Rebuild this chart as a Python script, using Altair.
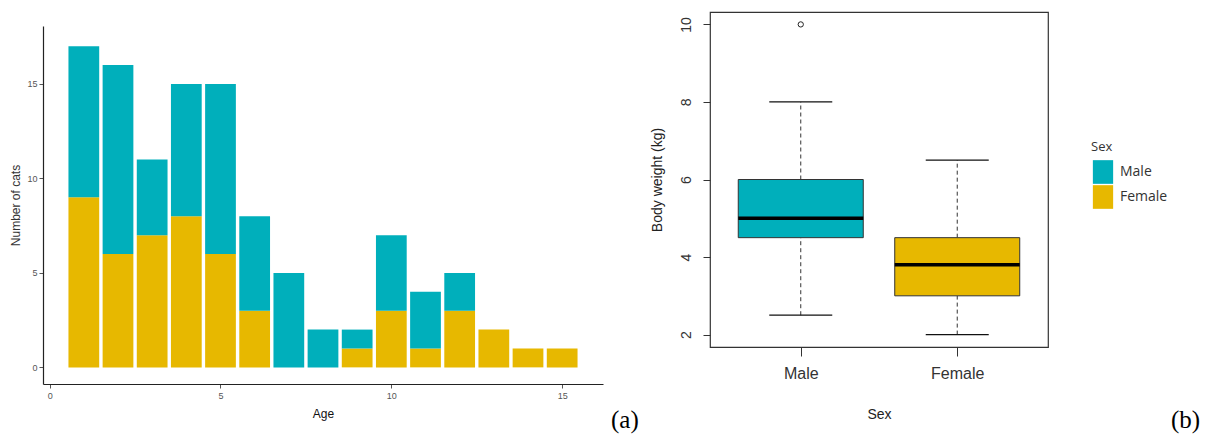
import altair as alt
import pandas as pd

# ---------------- data ----------------
ages = list(range(1, 16))
female_counts = [9, 6, 7, 8, 6, 3, 0, 0, 1, 3, 1, 3, 2, 1, 1]
male_counts = [8, 10, 4, 7, 9, 5, 5, 2, 1, 4, 3, 2, 0, 0, 0]

sexes = ["Male", "Female"]
sex_colors = ["#00AFBB", "#E7B800"]

box_lower = [2.5, 2.0]
box_q1 = [4.5, 3.0]
box_median = [5.0, 3.8]
box_q3 = [6.0, 4.5]
box_upper = [8.0, 6.5]

outlier_sex = ["Male"]
outlier_value = [10.0]

panel_labels = ["(a)", "(b)"]

# ---------------- tables ----------------
rows = []
for a, f, m in zip(ages, female_counts, male_counts):
    if f > 0:
        rows.append({"Age": a, "Count": f, "Sex": "Female", "ord": 0})
    if m > 0:
        rows.append({"Age": a, "Count": m, "Sex": "Male", "ord": 1})
bar_df = pd.DataFrame(rows)

box_df = pd.DataFrame({
    "Sex": sexes, "lower": box_lower, "q1": box_q1, "median": box_median,
    "q3": box_q3, "upper": box_upper,
})
out_df = pd.DataFrame({"Sex": outlier_sex, "value": outlier_value})

color_scale = alt.Scale(domain=sexes, range=sex_colors)
legend = alt.Legend(
    title="Sex", orient="none", legendX=1048, legendY=129,
    titleFont="Open Sans", titleFontSize=13, titleFontWeight="normal", titleColor="#333",
    labelFont="Open Sans", labelFontSize=14, labelColor="#333", labelOffset=5,
    symbolType="M-0.857,-1H0.857V1H-0.857Z", symbolSize=560, symbolStrokeWidth=0,
    symbolOpacity=1, rowPadding=1, titlePadding=6,
)

SANS = "Liberation Sans"

# ---------------- left: stacked bars ----------------
left = alt.Chart(bar_df).transform_stack(
    stack="Count", groupby=["Age"], as_=["y0", "y1"],
    sort=[alt.SortField("ord", order="ascending")],
).transform_calculate(
    x0="datum.Age - 0.45", x1="datum.Age + 0.45"
).mark_bar(strokeWidth=0, opacity=1).encode(
    x=alt.X("x0:Q", scale=alt.Scale(domain=[-0.195, 16.195], nice=False, zero=False),
            axis=alt.Axis(values=[0, 5, 10, 15], title="Age", grid=False,
                          domainColor="#222", domainWidth=1.2,
                          tickColor="#555", tickSize=4, labelColor="#555",
                          labelFontSize=9, labelFont=SANS, labelPadding=3,
                          titleFont=SANS, titleFontSize=12, titleFontWeight="normal",
                          titleColor="#111", titlePadding=8)),
    x2="x1:Q",
    y=alt.Y("y0:Q",
            scale=alt.Scale(domain=[-0.88, 18.07], nice=False, zero=False, range=[372, 14]),
            axis=alt.Axis(values=[0, 5, 10, 15], title="Number of cats", grid=False,
                          domainColor="#222", domainWidth=1.2,
                          tickColor="#555", tickSize=4, labelColor="#555",
                          labelFontSize=9, labelFont=SANS, labelPadding=2,
                          titleFont=SANS, titleFontSize=12, titleFontWeight="normal",
                          titleColor="#333", titlePadding=4)),
    y2="y1:Q",
    color=alt.Color("Sex:N", scale=color_scale, legend=legend),
).properties(width=560, height=372)

# ---------------- right: box plot ----------------
xenc = alt.X("Sex:N", scale=alt.Scale(type="point", domain=sexes, padding=0.58),
             axis=alt.Axis(title="Sex", domain=False, tickColor="#333", tickSize=9,
                           labelAngle=0, labelFont=SANS, labelFontSize=16, labelColor="#333",
                           labelPadding=9, titleFont=SANS, titleFontSize=14,
                           titleFontWeight="normal", titleColor="#222", titlePadding=26))
yscale = alt.Scale(domain=[1.68, 10.32], nice=False, zero=False)
yaxis = alt.Axis(values=[2, 4, 6, 8, 10], title="Body weight (kg)", grid=False, domain=False,
                 tickColor="#333", tickSize=7, labelAngle=-90, labelAlign="center",
                 labelBaseline="bottom", labelPadding=10, labelFont=SANS, labelFontSize=14,
                 labelColor="#333", titleFont=SANS, titleFontSize=14,
                 titleFontWeight="normal", titleColor="#222", titlePadding=15)

base = alt.Chart(box_df)
whisk_hi = base.mark_rule(color="#333", strokeDash=[4, 3], strokeWidth=1, opacity=1).encode(
    x=xenc, y=alt.Y("q3:Q", scale=yscale, axis=yaxis), y2="upper:Q")
whisk_lo = base.mark_rule(color="#333", strokeDash=[4, 3], strokeWidth=1, opacity=1).encode(
    x=xenc, y=alt.Y("lower:Q", scale=yscale, axis=yaxis), y2="q1:Q")
cap_hi = base.mark_tick(color="#111", size=63, thickness=1.3, opacity=1).encode(
    x=xenc, y=alt.Y("upper:Q", scale=yscale, axis=yaxis))
cap_lo = base.mark_tick(color="#111", size=63, thickness=1.3, opacity=1).encode(
    x=xenc, y=alt.Y("lower:Q", scale=yscale, axis=yaxis))
box = base.mark_bar(width=125, stroke="#333", strokeWidth=1, opacity=1).encode(
    x=xenc, y=alt.Y("q1:Q", scale=yscale, axis=yaxis), y2="q3:Q",
    color=alt.Color("Sex:N", scale=color_scale, legend=legend))
med = base.mark_tick(color="#000", size=125, thickness=3.5, opacity=1).encode(
    x=xenc, y=alt.Y("median:Q", scale=yscale, axis=yaxis))
outl = alt.Chart(out_df).mark_point(shape="circle", filled=False, size=28,
                                     color="#222", strokeWidth=1, opacity=1).encode(
    x=xenc, y=alt.Y("value:Q", scale=yscale, axis=yaxis))

lab_df = pd.DataFrame({"lab": panel_labels, "px": [-99, 461]})
labs = alt.Chart(lab_df).mark_text(font="Liberation Serif", fontSize=25, align="left",
                                    baseline="alphabetic", color="#000").encode(
    text="lab:N", x=alt.X("px:Q", scale=None), y=alt.value(416))

right = alt.layer(whisk_hi, whisk_lo, cap_hi, cap_lo, box, med, outl, labs).properties(
    width=338, height=335,
    view=alt.ViewBackground(stroke="#333", strokeWidth=1.2),
)

chart = alt.hconcat(left, right, spacing=107, bounds="flush").configure_view(
    stroke=None
).properties(
    padding={"left": 9, "top": 11, "right": 5, "bottom": 0},
    background="white",
)

chart.save("out.html", embed_options={"renderer": "svg", "actions": False})
